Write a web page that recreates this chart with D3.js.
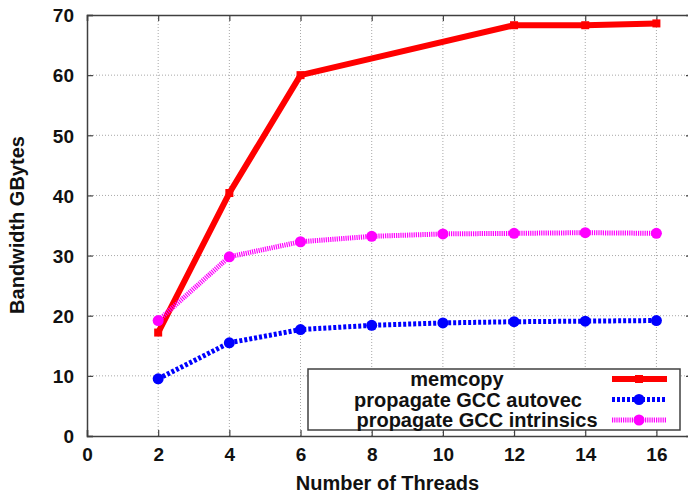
<!DOCTYPE html>
<html>
<head>
<meta charset="utf-8">
<script src="https://cdn.jsdelivr.net/npm/d3@7"></script>
<style>
  body { margin: 0; background: #fff; }
  svg { display: block; font-family: "Liberation Sans", Arial, sans-serif; font-weight: bold; }
</style>
</head>
<body>
<svg id="chart" width="688" height="495"></svg>
<script>
// data
const memThreads = [2, 4, 6, 12, 14, 16];
const memcopy = [17.2, 40.4, 60.0, 68.3, 68.3, 68.6];

const threads = [2, 4, 6, 8, 10, 12, 14, 16];
const autovec = [9.5, 15.5, 17.7, 18.4, 18.8, 19.0, 19.1, 19.2];
const intrinsics = [19.2, 29.8, 32.3, 33.2, 33.6, 33.7, 33.8, 33.7];

const xTicks = [0, 2, 4, 6, 8, 10, 12, 14, 16];
const yTicks = [0, 10, 20, 30, 40, 50, 60, 70];

const seriesList = [
  {name: "memcopy", xs: memThreads, ys: memcopy, color: "#ff0000", dash: null, width: 6, marker: "square", textX: 457},
  {name: "propagate GCC autovec", xs: threads, ys: autovec, color: "#0000ff", dash: "3,2", width: 5, marker: "circle", textX: 468},
  {name: "propagate GCC intrinsics", xs: threads, ys: intrinsics, color: "#ff00ff", dash: "1.2,1", width: 5, marker: "circle", textX: 477},
];

const svg = d3.select("#chart");
const margin = {top: 15, right: -4, bottom: 59, left: 87};
const width = +svg.attr("width") - margin.left - margin.right;
const height = +svg.attr("height") - margin.top - margin.bottom;

const x = d3.scaleLinear().domain([0, 17]).range([0, width]);
const y = d3.scaleLinear().domain([0, 70]).range([height, 0]);

const g = svg.append("g")
  .attr("transform", "translate(" + margin.left + "," + margin.top + ")");

// grid
const grid = g.append("g").attr("class", "grid");
grid.selectAll("line.gx")
  .data(xTicks.filter(function(d) { return d > 0; }))
  .enter().append("line")
    .attr("x1", function(d) { return x(d); })
    .attr("x2", function(d) { return x(d); })
    .attr("y1", 0).attr("y2", height)
    .attr("stroke", "#a8a8a8").attr("stroke-dasharray", "1,2");
grid.selectAll("line.gy")
  .data(yTicks.filter(function(d) { return d > 0 && d < 70; }))
  .enter().append("line")
    .attr("y1", function(d) { return y(d); })
    .attr("y2", function(d) { return y(d); })
    .attr("x1", 0).attr("x2", width)
    .attr("stroke", "#a8a8a8").attr("stroke-dasharray", "1,2");

// axes with inward ticks
const xAxis = g.append("g")
  .attr("transform", "translate(0," + height + ")")
  .call(d3.axisBottom(x).tickValues(xTicks).tickSize(-6).tickPadding(12));
const xTop = g.append("g")
  .call(d3.axisTop(x).tickValues(xTicks).tickSize(-6).tickFormat(""));
const yAxis = g.append("g")
  .call(d3.axisLeft(y).tickValues(yTicks).tickSize(-6).tickPadding(13));
const yRight = g.append("g")
  .attr("transform", "translate(" + width + ",0)")
  .call(d3.axisRight(y).tickValues(yTicks).tickSize(-6).tickFormat(""));

[xAxis, xTop, yAxis, yRight].forEach(function(a) {
  a.select(".domain").attr("stroke", "#404040").attr("stroke-width", 1.5);
  a.selectAll(".tick line").attr("stroke", "#404040").attr("stroke-width", 1.2);
  a.selectAll(".tick text")
    .attr("fill", "#111")
    .style("font-size", "19px")
    .style("font-weight", "bold")
    .style("font-family", "'Liberation Sans', Arial, sans-serif");
});
yAxis.selectAll(".tick text").attr("dy", "0.36em");

// axis titles
svg.append("text")
  .attr("x", margin.left + (688 - margin.left) / 2)
  .attr("y", 490)
  .attr("text-anchor", "middle")
  .style("font-size", "20px")
  .attr("fill", "#111")
  .text("Number of Threads");
svg.append("text")
  .attr("transform", "translate(24,225) rotate(-90)")
  .attr("text-anchor", "middle")
  .style("font-size", "20px")
  .attr("fill", "#111")
  .text("Bandwidth GBytes");

// series
const line = d3.line()
  .x(function(d) { return x(d[0]); })
  .y(function(d) { return y(d[1]); });

seriesList.forEach(function(s) {
  const pts = s.xs.map(function(v, i) { return [v, s.ys[i]]; });
  const sg = g.append("g");
  sg.append("path")
    .datum(pts)
    .attr("d", line)
    .attr("fill", "none")
    .attr("stroke", s.color)
    .attr("stroke-width", s.width)
    .attr("stroke-linejoin", "round")
    .attr("stroke-dasharray", s.dash);
  if (s.marker === "circle") {
    sg.selectAll("circle")
      .data(pts)
      .enter().append("circle")
        .attr("cx", function(d) { return x(d[0]); })
        .attr("cy", function(d) { return y(d[1]); })
        .attr("r", 5.5)
        .attr("fill", s.color);
  } else {
    sg.selectAll("rect")
      .data(pts)
      .enter().append("rect")
        .attr("x", function(d) { return x(d[0]) - 4; })
        .attr("y", function(d) { return y(d[1]) - 4; })
        .attr("width", 8).attr("height", 8)
        .attr("fill", s.color);
  }
});

// legend
const legend = svg.append("g");
legend.append("rect")
  .attr("x", 308).attr("y", 369)
  .attr("width", 372).attr("height", 61)
  .attr("fill", "#fff")
  .attr("stroke", "#404040")
  .attr("stroke-width", 1.5);

seriesList.forEach(function(s, i) {
  const cy = 379 + i * 20.5;
  legend.append("text")
    .attr("x", s.textX)
    .attr("y", cy + 7)
    .attr("text-anchor", "middle")
    .style("font-size", "20px")
    .attr("fill", "#111")
    .text(s.name);
  legend.append("line")
    .attr("x1", 612).attr("x2", 667)
    .attr("y1", cy).attr("y2", cy)
    .attr("stroke", s.color)
    .attr("stroke-width", s.width)
    .attr("stroke-dasharray", s.dash);
  if (s.marker === "circle") {
    legend.append("circle")
      .attr("cx", 639).attr("cy", cy).attr("r", 5.5).attr("fill", s.color);
  } else {
    legend.append("rect")
      .attr("x", 635).attr("y", cy - 4).attr("width", 8).attr("height", 8)
      .attr("fill", s.color);
  }
});
</script>
</body>
</html>
